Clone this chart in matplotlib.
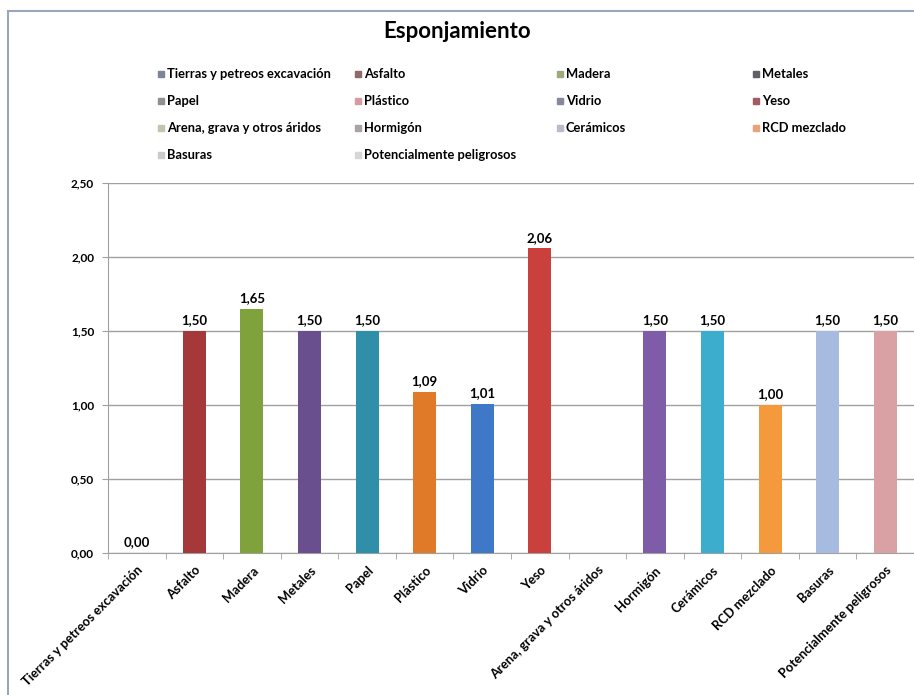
import numpy as np
import matplotlib
matplotlib.use("Agg")
import matplotlib.pyplot as plt
from matplotlib.patches import Rectangle

categorias = ["Tierras y petreos excavación", "Asfalto", "Madera", "Metales", "Papel",
              "Plástico", "Vidrio", "Yeso", "Arena, grava y otros áridos", "Hormigón",
              "Cerámicos", "RCD mezclado", "Basuras", "Potencialmente peligrosos"]
valores = [0.00, 1.50, 1.65, 1.50, 1.50, 1.09, 1.01, 2.06, np.nan, 1.50, 1.50, 1.00, 1.50, 1.50]
colores = ["#4F81BD", "#A5393A", "#7FA23C", "#6A4F8F", "#2F8FA8", "#E07A28", "#3F78C6",
           "#C9403D", "#9BBB59", "#7F5CA8", "#3CADCC", "#F5993D", "#A7BADF", "#D9A1A3"]
# legend swatches look washed-out / greyish in the original
colores_leyenda = ["#7C8598", "#8E6A6C", "#9BAA7A", "#5F5F68", "#8F8F94", "#D79A9E", "#8489A0",
                   "#A35A62", "#BFC6AE", "#A9A3A8", "#B7BCC8", "#E9A27A", "#C9CBCB", "#D8D6D6"]

plt.rcParams["font.family"] = ["Lato", "DejaVu Sans"]
fig = plt.figure(figsize=(9.14, 6.95), dpi=100)
W, H = 914, 695

# chart frame
fig.patches.append(Rectangle((8 / W, -0.01), 1.0, 1 - 11 / H + 0.01, transform=fig.transFigure,
                             fill=False, edgecolor="#9AA6BE", lw=1.5))

ax = fig.add_axes([108 / W, 1 - 553 / H, (914 - 108) / W, 370 / H])
x = np.arange(len(categorias))
ax.bar(x, valores, width=0.4, color=colores, zorder=3)
for xi, v in zip(x, valores):
    if np.isnan(v):
        continue
    ax.text(xi, v + 0.03, f"{v:.2f}".replace(".", ","), ha="center", va="bottom",
            fontsize=9.5, fontweight="bold", zorder=4)

ax.set_ylim(0, 2.5)
ax.set_xlim(-0.5, -0.5 + 806 / 58.3)
yt = np.arange(0, 2.51, 0.5)
ax.set_yticks(yt)
ax.set_yticklabels([f"{t:.2f}".replace(".", ",") for t in yt], fontsize=8.5, fontweight="bold")
ax.yaxis.grid(True, color="#A0A0A0", lw=1, zorder=0)
ax.set_xticks(x)
ax.set_xticklabels(categorias, rotation=45, ha="right", rotation_mode="anchor",
                   fontsize=9.3, fontweight="bold")
ax.set_xticks(np.arange(-0.5, len(categorias), 1), minor=True)
ax.tick_params(axis="x", which="major", length=0, pad=8)
ax.tick_params(axis="x", which="minor", length=4, color="#A0A0A0")
ax.tick_params(axis="y", length=4, color="#A0A0A0", pad=6)
for s in ["top", "right"]:
    ax.spines[s].set_visible(False)
ax.spines["left"].set_color("#A0A0A0")
ax.spines["bottom"].set_color("#A0A0A0")
ax.set_facecolor("none")

fig.text(457 / W, 1 - 31 / H, "Esponjamiento", ha="center", va="center",
         fontsize=16, fontweight="bold")

# legend in rows of 4, laid out manually
col_x = [158, 355, 557, 753]
row_y = [74, 101, 128, 155]
for i, (cat, c) in enumerate(zip(categorias, colores_leyenda)):
    r, k = divmod(i, 4)
    fig.patches.append(Rectangle(((col_x[k]) / W, 1 - (row_y[r] + 3) / H), 6 / W, 6 / H,
                                 transform=fig.transFigure, color=c))
    fig.text((col_x[k] + 9) / W, 1 - row_y[r] / H, cat, ha="left", va="center",
             fontsize=9.3, fontweight="bold")

fig.savefig("out.png", dpi=100, facecolor="white")
